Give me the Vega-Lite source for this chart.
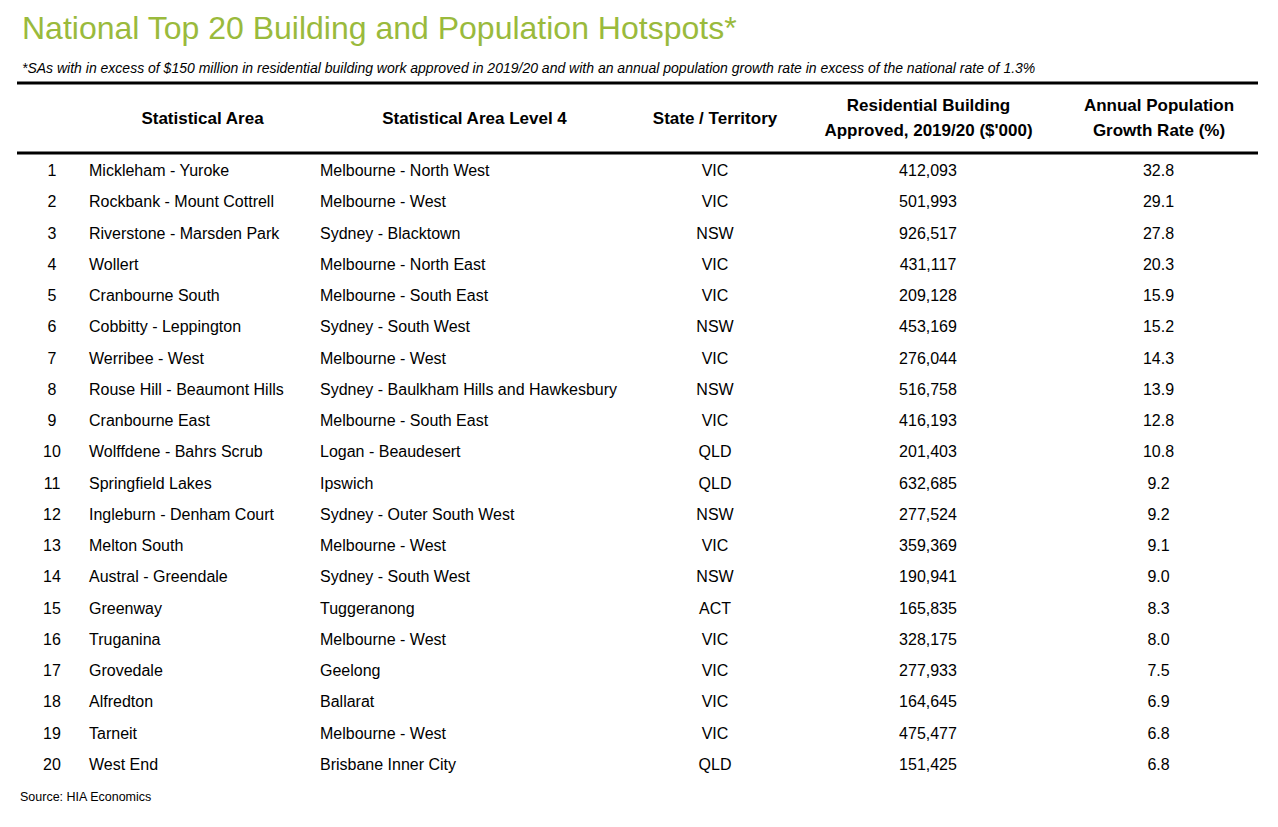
{
  "$schema": "https://vega.github.io/schema/vega-lite/v6.json",
  "width": 1278,
  "height": 747,
  "autosize": {"type": "none"},
  "padding": {"left": 0, "top": 80, "right": 0, "bottom": 0},
  "background": "white",
  "title": {
    "text": "National Top 20 Building and Population Hotspots*",
    "subtitle": "*SAs with in excess of $150 million in residential building work approved in 2019/20 and with an annual population growth rate in excess of the national rate of 1.3%",
    "anchor": "start",
    "frame": "group",
    "dx": 22,
    "offset": 3,
    "font": "Arial Narrow, Liberation Sans",
    "fontSize": 32,
    "fontWeight": "normal",
    "color": "#9ABA3C",
    "subtitleFont": "Arial Narrow, Liberation Sans",
    "subtitleFontSize": 14,
    "subtitleFontStyle": "italic",
    "subtitleColor": "#000000",
    "subtitlePadding": 16
  },
  "config": {
    "view": {"stroke": null},
    "text": {"font": "Arial Narrow, Liberation Sans", "fontSize": 16, "color": "#000000"}
  },
  "data": {
    "values": [
      {"rank": 1, "sa": "Mickleham - Yuroke", "sa4": "Melbourne - North West", "state": "VIC", "building": 412093, "growth": 32.8},
      {"rank": 2, "sa": "Rockbank - Mount Cottrell", "sa4": "Melbourne - West", "state": "VIC", "building": 501993, "growth": 29.1},
      {"rank": 3, "sa": "Riverstone - Marsden Park", "sa4": "Sydney - Blacktown", "state": "NSW", "building": 926517, "growth": 27.8},
      {"rank": 4, "sa": "Wollert", "sa4": "Melbourne - North East", "state": "VIC", "building": 431117, "growth": 20.3},
      {"rank": 5, "sa": "Cranbourne South", "sa4": "Melbourne - South East", "state": "VIC", "building": 209128, "growth": 15.9},
      {"rank": 6, "sa": "Cobbitty - Leppington", "sa4": "Sydney - South West", "state": "NSW", "building": 453169, "growth": 15.2},
      {"rank": 7, "sa": "Werribee - West", "sa4": "Melbourne - West", "state": "VIC", "building": 276044, "growth": 14.3},
      {"rank": 8, "sa": "Rouse Hill - Beaumont Hills", "sa4": "Sydney - Baulkham Hills and Hawkesbury", "state": "NSW", "building": 516758, "growth": 13.9},
      {"rank": 9, "sa": "Cranbourne East", "sa4": "Melbourne - South East", "state": "VIC", "building": 416193, "growth": 12.8},
      {"rank": 10, "sa": "Wolffdene - Bahrs Scrub", "sa4": "Logan - Beaudesert", "state": "QLD", "building": 201403, "growth": 10.8},
      {"rank": 11, "sa": "Springfield Lakes", "sa4": "Ipswich", "state": "QLD", "building": 632685, "growth": 9.2},
      {"rank": 12, "sa": "Ingleburn - Denham Court", "sa4": "Sydney - Outer South West", "state": "NSW", "building": 277524, "growth": 9.2},
      {"rank": 13, "sa": "Melton South", "sa4": "Melbourne - West", "state": "VIC", "building": 359369, "growth": 9.1},
      {"rank": 14, "sa": "Austral - Greendale", "sa4": "Sydney - South West", "state": "NSW", "building": 190941, "growth": 9.0},
      {"rank": 15, "sa": "Greenway", "sa4": "Tuggeranong", "state": "ACT", "building": 165835, "growth": 8.3},
      {"rank": 16, "sa": "Truganina", "sa4": "Melbourne - West", "state": "VIC", "building": 328175, "growth": 8.0},
      {"rank": 17, "sa": "Grovedale", "sa4": "Geelong", "state": "VIC", "building": 277933, "growth": 7.5},
      {"rank": 18, "sa": "Alfredton", "sa4": "Ballarat", "state": "VIC", "building": 164645, "growth": 6.9},
      {"rank": 19, "sa": "Tarneit", "sa4": "Melbourne - West", "state": "VIC", "building": 475477, "growth": 6.8},
      {"rank": 20, "sa": "West End", "sa4": "Brisbane Inner City", "state": "QLD", "building": 151425, "growth": 6.8}
    ]
  },
  "resolve": {"scale": {"x": "shared", "y": "shared"}},
  "layer": [
    {
      "data": {"values": [{}]},
      "mark": {"type": "rule", "strokeWidth": 3, "color": "#000000"},
      "encoding": {
        "x": {"datum": 17, "type": "quantitative", "scale": {"domain": [0, 1278], "nice": false, "zero": false}, "axis": null},
        "x2": {"datum": 1258},
        "y": {"datum": -1.783, "type": "quantitative", "scale": {"domain": [-1.879, 22.015], "reverse": true, "nice": false, "zero": false}, "axis": null}
      }
    },
    {
      "data": {"values": [{}]},
      "mark": {"type": "rule", "strokeWidth": 3, "color": "#000000"},
      "encoding": {
        "x": {"datum": 17, "type": "quantitative"},
        "x2": {"datum": 1258},
        "y": {"datum": 0.456, "type": "quantitative"}
      }
    },
    {
      "data": {"values": [{}]},
      "mark": {"type": "text", "fontWeight": "bold", "fontSize": 17, "align": "center", "baseline": "middle"},
      "encoding": {
        "x": {"datum": 202.5, "type": "quantitative"},
        "y": {"datum": -0.631, "type": "quantitative"},
        "text": {"value": "Statistical Area"}
      }
    },
    {
      "data": {"values": [{}]},
      "mark": {"type": "text", "fontWeight": "bold", "fontSize": 17, "align": "center", "baseline": "middle"},
      "encoding": {
        "x": {"datum": 474.5, "type": "quantitative"},
        "y": {"datum": -0.631, "type": "quantitative"},
        "text": {"value": "Statistical Area Level 4"}
      }
    },
    {
      "data": {"values": [{}]},
      "mark": {"type": "text", "fontWeight": "bold", "fontSize": 17, "align": "center", "baseline": "middle"},
      "encoding": {
        "x": {"datum": 715, "type": "quantitative"},
        "y": {"datum": -0.631, "type": "quantitative"},
        "text": {"value": "State / Territory"}
      }
    },
    {
      "data": {"values": [{}]},
      "mark": {"type": "text", "fontWeight": "bold", "fontSize": 17, "align": "center", "baseline": "middle", "lineHeight": 25},
      "encoding": {
        "x": {"datum": 928.5, "type": "quantitative"},
        "y": {"datum": -1.047, "type": "quantitative"},
        "text": {"value": ["Residential Building", "Approved, 2019/20 ($'000)"]}
      }
    },
    {
      "data": {"values": [{}]},
      "mark": {"type": "text", "fontWeight": "bold", "fontSize": 17, "align": "center", "baseline": "middle", "lineHeight": 25},
      "encoding": {
        "x": {"datum": 1159, "type": "quantitative"},
        "y": {"datum": -1.047, "type": "quantitative"},
        "text": {"value": ["Annual Population", "Growth Rate (%)"]}
      }
    },
    {
      "mark": {"type": "text", "align": "center", "baseline": "middle", "dy": 1},
      "encoding": {
        "x": {"datum": 52, "type": "quantitative"},
        "y": {"field": "rank", "type": "quantitative"},
        "text": {"field": "rank", "type": "quantitative"}
      }
    },
    {
      "mark": {"type": "text", "align": "left", "baseline": "middle", "dy": 1},
      "encoding": {
        "x": {"datum": 89, "type": "quantitative"},
        "y": {"field": "rank", "type": "quantitative"},
        "text": {"field": "sa", "type": "nominal"}
      }
    },
    {
      "mark": {"type": "text", "align": "left", "baseline": "middle", "dy": 1},
      "encoding": {
        "x": {"datum": 320, "type": "quantitative"},
        "y": {"field": "rank", "type": "quantitative"},
        "text": {"field": "sa4", "type": "nominal"}
      }
    },
    {
      "mark": {"type": "text", "align": "center", "baseline": "middle", "dy": 1},
      "encoding": {
        "x": {"datum": 715, "type": "quantitative"},
        "y": {"field": "rank", "type": "quantitative"},
        "text": {"field": "state", "type": "nominal"}
      }
    },
    {
      "mark": {"type": "text", "align": "center", "baseline": "middle", "dy": 1},
      "encoding": {
        "x": {"datum": 928, "type": "quantitative"},
        "y": {"field": "rank", "type": "quantitative"},
        "text": {"field": "building", "type": "quantitative", "format": ","}
      }
    },
    {
      "mark": {"type": "text", "align": "center", "baseline": "middle", "dy": 1},
      "encoding": {
        "x": {"datum": 1158.5, "type": "quantitative"},
        "y": {"field": "rank", "type": "quantitative"},
        "text": {"field": "growth", "type": "quantitative", "format": ".1f"}
      }
    },
    {
      "data": {"values": [{}]},
      "mark": {"type": "text", "align": "left", "baseline": "middle", "fontSize": 12.5},
      "encoding": {
        "x": {"datum": 20, "type": "quantitative"},
        "y": {"datum": 21.056, "type": "quantitative"},
        "text": {"value": "Source: HIA Economics"}
      }
    }
  ]
}
